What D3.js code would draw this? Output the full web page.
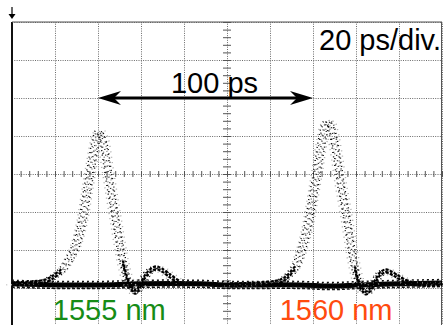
<!DOCTYPE html>
<meta charset="utf-8">
<html>
<head>
    <title>Pulse trace</title>
    <script src="https://d3js.org/d3.v7.min.js"></script>
</head>
<style type="text/css">
    body{ margin:0; background:#fff; }
    text{ font-family: "Liberation Sans", Arial, Helvetica, sans-serif; }
    .grid line{ stroke:#6a6a6a; stroke-dasharray:1,1.3; }
    .grid path{ display:none; }
    .center path{ display:none; }
    .center line{ stroke:#555; }
</style>
<body>
<script type="text/javascript">
// time in ps, level in divisions
var xGrid = [-100, -80, -60, -40, -20, 0, 20, 40, 60, 80, 100]
var yGrid = [-4, -3, -2, -1, 0, 1, 2, 3, 4]

var baseT = [-100, -77.7, -59.1, -40.5, -12.6, 0, 10.7, 34, 47.9, 61.9, 80.5, 100]
var baseV = [-2.89, -2.92, -2.92, -2.89, -2.89, -2.92, -2.92, -2.92, -2.95, -2.92, -2.89, -2.87]

var pulse1T = [-100, -91.6, -84.7, -80.9, -76.7, -73.0, -70.2, -67.4, -65.1, -62.8, -60.9, -59.5, -57.7, -55.8, -54.0, -52.1, -50.2, -48.4, -46.5, -44.7, -42.8, -40.9, -38.6, -35.8, -33.0, -30.2, -26.5, -21.9]
var pulse1V = [-2.89, -2.87, -2.82, -2.71, -2.53, -2.21, -1.87, -1.26, -0.47, 0.32, 0.89, 1.11, 0.89, 0.24, -0.42, -1.08, -1.74, -2.32, -2.74, -2.97, -3.11, -3.00, -2.74, -2.55, -2.47, -2.53, -2.68, -2.87]

var pulse2T = [1.4, 15.3, 24.7, 28.4, 31.6, 34.0, 35.8, 37.7, 39.1, 40.5, 41.9, 43.3, 44.7, 46.0, 47.4, 49.3, 51.2, 53.0, 54.9, 56.7, 58.1, 59.5, 60.9, 62.8, 64.7, 66.5, 68.8, 71.2, 74.0, 76.7, 80.5, 85.1, 100]
var pulse2V = [-2.92, -2.89, -2.82, -2.68, -2.47, -2.13, -1.79, -1.34, -0.89, -0.42, 0.05, 0.58, 1.03, 1.32, 1.37, 1.03, 0.42, -0.29, -0.89, -1.53, -2.05, -2.47, -2.79, -3.03, -3.13, -3.05, -2.84, -2.63, -2.55, -2.61, -2.74, -2.87, -2.89]

var spanT = [-60, 40]
var spanV = 2
var spanLabel = "100 ps"
var scaleLabel = "20 ps/div."
var waveLabels = [
    {text: "1555 nm", t: -81, color: "#168c16"},
    {text: "1560 nm", t: 24.5, color: "#ff4b0f"}
]

var svgWidth = 443
var svgHeight = 325
var margin = {top: 22, left: 12}
var width = 430
var height = 304

var svg = d3.select("body").append("svg")
    .attr("width", svgWidth)
    .attr("height", svgHeight)

var x = d3.scaleLinear().domain([-100, 100]).range([margin.left, margin.left + width])
var y = d3.scaleLinear().domain([-4, 4]).range([margin.top + height, margin.top])

// dotted graticule
svg.append("g").attr("class", "grid")
    .attr("transform", "translate(0," + (margin.top + height) + ")")
    .call(d3.axisBottom(x).tickValues(xGrid).tickSize(-height).tickFormat(""))
svg.append("g").attr("class", "grid")
    .attr("transform", "translate(" + margin.left + ",0)")
    .call(d3.axisLeft(y).tickValues(yGrid).tickSize(-width).tickFormat(""))

// centre axes with minor ticks
var minorX = d3.range(-100, 100.1, 4)
var minorY = d3.range(-4, 4.01, 0.2)
svg.append("g").attr("class", "center")
    .attr("transform", "translate(0," + (y(0) + 3) + ")")
    .call(d3.axisBottom(x).tickValues(minorX).tickSize(6).tickSizeOuter(0).tickFormat(""))
    .selectAll("line").attr("transform", "translate(0,-6)")
svg.append("g").attr("class", "center")
    .attr("transform", "translate(" + (x(0) + 4) + ",0)")
    .call(d3.axisLeft(y).tickValues(minorY).tickSize(8).tickSizeOuter(0).tickFormat(""))

// frame
svg.append("line").attr("x1", x(-100)).attr("x2", x(-100)).attr("y1", y(4)).attr("y2", svgHeight)
    .attr("stroke", "#111").attr("stroke-width", 2)
svg.append("line").attr("x1", x(-100)).attr("x2", x(100)).attr("y1", y(4)).attr("y2", y(4))
    .attr("stroke", "#555").attr("stroke-width", 1.2)
svg.append("line").attr("x1", x(100) - 0.5).attr("x2", x(100) - 0.5).attr("y1", y(4)).attr("y2", svgHeight)
    .attr("stroke", "#555").attr("stroke-width", 1)

// trigger marker
svg.append("line").attr("x1", x(-100)).attr("x2", x(-100)).attr("y1", 7).attr("y2", 15)
    .attr("stroke", "#000").attr("stroke-width", 1.2)
svg.append("path")
    .attr("d", "M" + (x(-100) - 3.5) + ",14L" + (x(-100) + 3.5) + ",14L" + x(-100) + ",19Z")
    .attr("fill", "#000")

// traces
var line = d3.line().x(d => x(d[0])).y(d => y(d[1])).curve(d3.curveCatmullRom)
var lowLine = d3.line().defined(d => d[1] < -2.3).x(d => x(d[0])).y(d => y(d[1])).curve(d3.curveCatmullRom)
var base = d3.zip(baseT, baseV)
var pulses = [d3.zip(pulse1T, pulse1V), d3.zip(pulse2T, pulse2V)]

var traces = svg.append("g")
traces.append("path").datum(base)
    .attr("d", line).attr("fill", "none").attr("stroke", "#000").attr("stroke-width", 5)
;[-3.5, 3.5, -2, 2].forEach((dy, i) => {
    traces.append("path").datum(base)
        .attr("transform", "translate(0," + dy + ")")
        .attr("d", line).attr("fill", "none").attr("stroke", "#111")
        .attr("stroke-width", 1.5).attr("stroke-dasharray", ["2,3", "3,2", "1,4", "1.5,3.5"][i])
})

// several offset passes of each pulse give the speckled persistence look
var copies = [
    {dx: -5.5, dy: 1, color: "#aaa", dash: "1,4.2", off: 0.3},
    {dx: -3.5, dy: -1, color: "#000", dash: "1,3.4", off: 1.1},
    {dx: -1.5, dy: 1.5, color: "#888", dash: "1.2,3.8", off: 2.2},
    {dx: 0, dy: 0, color: "#222", dash: "1,4.6", off: 1.7},
    {dx: 1.5, dy: -1.5, color: "#999", dash: "1.2,3.6", off: 0.8},
    {dx: 3.5, dy: 1, color: "#000", dash: "1,3.2", off: 2.6},
    {dx: 5.5, dy: -1, color: "#aaa", dash: "1,4.4", off: 1.4},
    {dx: -2.5, dy: 0, color: "#000", dash: "0.9,5.5", off: 3.1},
    {dx: 2.5, dy: 0, color: "#000", dash: "0.9,5.1", off: 0.2}
]
pulses.forEach(p => {
    copies.forEach(c => {
        traces.append("path").datum(p)
            .attr("transform", "translate(" + c.dx + "," + c.dy + ")")
            .attr("d", line).attr("fill", "none").attr("stroke", c.color)
            .attr("stroke-width", 1.4).attr("stroke-dasharray", c.dash)
            .attr("stroke-dashoffset", c.off)
    })
    // dense parts close to the baseline
    ;[-1.5, 1.5].forEach(dy => {
        traces.append("path").datum(p)
            .attr("transform", "translate(0," + dy + ")")
            .attr("d", lowLine).attr("fill", "none").attr("stroke", "#000")
            .attr("stroke-width", 2.2).attr("stroke-dasharray", "3,1.5")
    })
})

// span arrow
var ax1 = x(spanT[0]), ax2 = x(spanT[1]), ay = y(spanV)
svg.append("line").attr("x1", ax1 + 10).attr("x2", ax2 - 10).attr("y1", ay).attr("y2", ay)
    .attr("stroke", "#000").attr("stroke-width", 3)
svg.append("path")
    .attr("d", "M" + ax1 + "," + ay + "L" + (ax1 + 23) + "," + (ay - 7) + "L" + (ax1 + 16) + "," + ay + "L" + (ax1 + 23) + "," + (ay + 7) + "Z")
    .attr("fill", "#000")
svg.append("path")
    .attr("d", "M" + ax2 + "," + ay + "L" + (ax2 - 23) + "," + (ay - 7) + "L" + (ax2 - 16) + "," + ay + "L" + (ax2 - 23) + "," + (ay + 7) + "Z")
    .attr("fill", "#000")

var lbl = svg.append("g")
lbl.append("text").attr("x", (ax1 + ax2) / 2 + 9).attr("y", ay - 5)
    .attr("text-anchor", "middle").attr("font-size", 29).attr("fill", "#000")
    .text(spanLabel)
lbl.append("text").attr("x", x(100) - 1).attr("y", 50)
    .attr("text-anchor", "end").attr("font-size", 29).attr("fill", "#000")
    .text(scaleLabel)

svg.selectAll(".wl").data(waveLabels).enter().append("text")
    .attr("class", "wl")
    .attr("x", d => x(d.t)).attr("y", 320)
    .attr("font-size", 29).attr("fill", d => d.color)
    .text(d => d.text)
</script>
</body>
</html>
